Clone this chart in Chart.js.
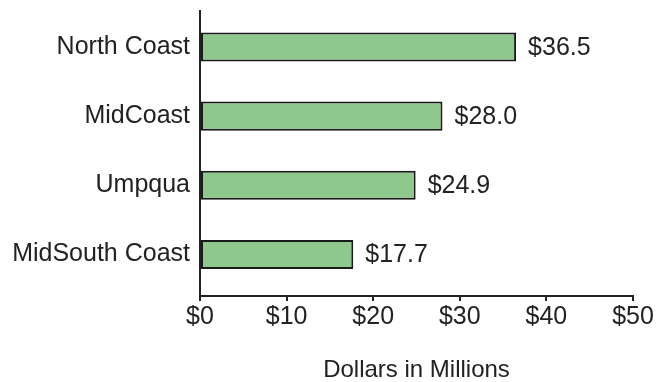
<!DOCTYPE html>
<html>
<head>
<meta charset="utf-8">
<script src="https://cdn.jsdelivr.net/npm/chart.js@4/dist/chart.umd.min.js"></script>
<style>
  html, body { margin: 0; padding: 0; background: #ffffff; }
  #wrap { width: 661px; height: 382px; }
</style>
</head>
<body>
<div id="wrap"><canvas id="c" width="661" height="382"></canvas></div>
<script>
// Regions and funding, top to bottom
const regions = ['North Coast', 'MidCoast', 'Umpqua', 'MidSouth Coast'];
const funding = [36.5, 28.0, 24.9, 17.7];
const xTicks = [0, 10, 20, 30, 40, 50];
const axisTitle = 'Dollars in Millions';

const ink = '#222222';
const fontFamily = '"Liberation Sans", Arial, Helvetica, sans-serif';

const money = v => '$' + v;
const moneyLabel = v => '$' + v.toFixed(1);

// Writes the dollar amount just past the end of each bar
const valueLabels = {
  id: 'valueLabels',
  afterDatasetsDraw(chart) {
    const ctx = chart.ctx;
    const meta = chart.getDatasetMeta(0);
    ctx.save();
    ctx.font = '25px ' + fontFamily;
    ctx.fillStyle = ink;
    ctx.textAlign = 'left';
    ctx.textBaseline = 'middle';
    meta.data.forEach((bar, i) => {
      ctx.fillText(moneyLabel(funding[i]), bar.x + 12, bar.y + 1);
    });
    ctx.restore();
  }
};

new Chart(document.getElementById('c'), {
  type: 'bar',
  data: {
    datasets: [{
      data: funding.map((v, i) => ({ x: v, y: i })),
      backgroundColor: '#8ec88d',
      borderColor: '#1a1a1a',
      borderWidth: 2,
      borderSkipped: false,
      categoryPercentage: 1,
      barPercentage: 0.42
    }]
  },
  options: {
    indexAxis: 'y',
    responsive: false,
    animation: false,
    events: [],
    layout: { padding: { top: 11, right: 28, bottom: 0, left: 0 } },
    plugins: {
      legend: { display: false },
      tooltip: { enabled: false }
    },
    scales: {
      x: {
        type: 'linear',
        min: 0,
        max: 50,
        afterBuildTicks: s => { s.ticks = xTicks.map(v => ({ value: v })); },
        grid: {
          display: true,
          drawOnChartArea: false,
          drawTicks: true,
          tickLength: 5,
          color: ink,
          lineWidth: 2
        },
        border: { display: true, color: ink, width: 2 },
        ticks: {
          padding: 1,
          color: ink,
          font: { family: fontFamily, size: 25, lineHeight: 1.2 },
          callback: v => money(v),
          maxRotation: 0
        },
        title: {
          display: true,
          text: axisTitle,
          color: ink,
          font: { family: fontFamily, size: 24, lineHeight: 1 },
          padding: { top: 25, bottom: 0 }
        }
      },
      y: {
        type: 'linear',
        reverse: true,
        offset: false,
        min: -0.52,
        max: 3.6,
        afterBuildTicks: s => { s.ticks = regions.map((_, i) => ({ value: i })); },
        afterFit: s => { s.width = 200; s.paddingTop = 0; s.paddingBottom = 0; },
        grid: { display: false, offset: false },
        border: { display: true, color: ink, width: 2 },
        ticks: {
          padding: 2,
          color: ink,
          font: { family: fontFamily, size: 25 },
          callback: v => regions[v] ?? ''
        }
      }
    }
  },
  plugins: [valueLabels]
});
</script>
</body>
</html>
